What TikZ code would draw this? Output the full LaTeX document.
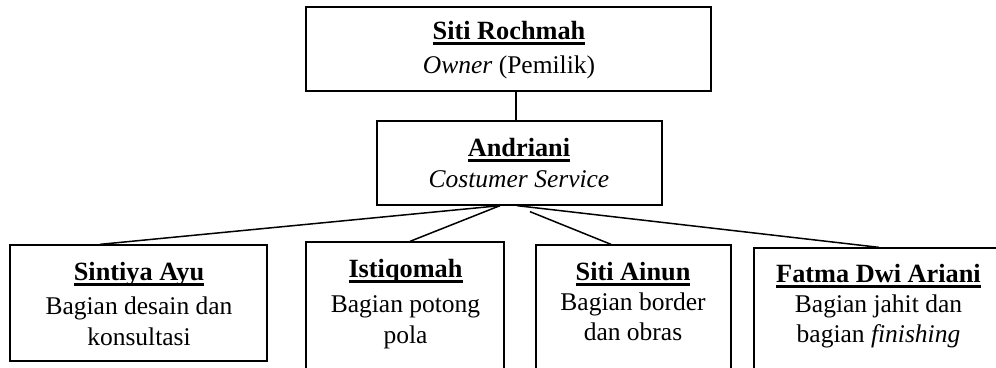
\documentclass[tikz,border=0pt]{standalone}
\usepackage{fontspec}
\setmainfont{Liberation Serif}
\newsavebox\nmbox
\newcommand\nmline[1]{\sbox\nmbox{\fontsize{26.3}{30.5}\selectfont\textbf{#1}}\rlap{\rule[-5.6pt]{\wd\nmbox}{2.4pt}}\usebox\nmbox}
\begin{document}
\begin{tikzpicture}[x=1pt,y=1pt,
  box/.style={draw=black,line width=1.3pt,rectangle,inner sep=0pt,fill=none},
  txt/.style={anchor=base,inner sep=0pt,font=\fontsize{25.5}{30.5}\selectfont},
  conn/.style={draw=black,line width=1.5pt}]
\clip (0,0) rectangle (996,-367);
\fill[white] (0,0) rectangle (996,-367);
% boxes
\node[box,minimum width=405pt,minimum height=84pt] (top) at (508.5,-49) {};
\node[box,minimum width=285pt,minimum height=84pt] (andr) at (519.5,-163) {};
\node[box,minimum width=257pt,minimum height=116pt] (sint) at (138.5,-303) {};
\node[box,minimum width=198pt,minimum height=138pt] (istq) at (405,-311) {};
\node[box,minimum width=195pt,minimum height=135pt] (ainun) at (633.5,-312.5) {};
\node[box,minimum width=249pt,minimum height=132pt] (fatma) at (878.5,-314) {};
% texts
\node[txt] (ttop) at (509,-39) {\begin{tabular}[t]{@{}c@{}}\nmline{Siti Rochmah}\\[3.5pt] \textit{Owner} (Pemilik)\end{tabular}};
\node[txt] (tandr) at (519,-156) {\begin{tabular}[t]{@{}c@{}}\nmline{Andriani}\\[0.5pt] \textit{Costumer Service}\end{tabular}};
\node[txt] (tsint) at (139,-280) {\begin{tabular}[t]{@{}c@{}}\nmline{Sintiya Ayu}\\[4pt] Bagian desain dan\\ konsultasi\end{tabular}};
\node[txt] (tistq) at (405.5,-277) {\begin{tabular}[t]{@{}c@{}}\nmline{Istiqomah}\\[5pt] Bagian potong\\ pola\end{tabular}};
\node[txt] (tainun) at (633,-280) {\begin{tabular}[t]{@{}c@{}}\nmline{Siti Ainun}\\[-0.5pt] Bagian border\\[-0.5pt] dan obras\end{tabular}};
\node[txt] (tfatma) at (878.5,-282) {\begin{tabular}[t]{@{}c@{}}\nmline{Fatma Dwi Ariani}\\[0pt] Bagian jahit dan\\[-0.5pt] bagian \textit{finishing}\end{tabular}};
% connectors
\draw[conn] ([xshift=7.5pt]top.south) -- ([xshift=-3.5pt]andr.north);
\draw[conn] ([xshift=-19.5pt]andr.south) -- ([xshift=-38.5pt]sint.north);
\draw[conn] ([xshift=-19.5pt]andr.south) -- ([xshift=5pt]istq.north);
\draw[conn] ([xshift=10.5pt,yshift=-6pt]andr.south) -- ([xshift=-22.5pt]ainun.north);
\draw[conn] ([xshift=-2.5pt]andr.south) -- ([xshift=0.5pt]fatma.north);
\end{tikzpicture}
\end{document}
